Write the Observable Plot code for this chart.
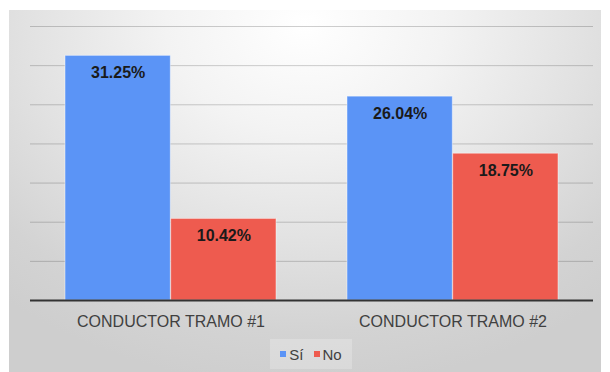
<!DOCTYPE html>
<html>
<head>
<meta charset="utf-8">
<script src="https://cdn.jsdelivr.net/npm/d3@7"></script>
<script src="https://cdn.jsdelivr.net/npm/@observablehq/plot@0.6"></script>
<style>
  html, body { margin: 0; padding: 0; background: #ffffff; }
  #wrap { position: relative; width: 610px; height: 372px; overflow: hidden; font-family: "Liberation Sans", Arial, sans-serif; }
  #panel { position: absolute; left: 9px; top: 10px; width: 592px; height: 362px;
    background: radial-gradient(ellipse 78% 100% at 50% 4%, #ffffff 0%, #f3f3f3 30%, #e2e2e2 60%, #d3d3d3 85%, #cecece 100%); }
  #chart { position: absolute; left: 0; top: 0; }
  #legend { position: absolute; left: 270px; top: 339px; width: 82px; height: 30px; background: rgba(255,255,255,0.22);
    display: flex; align-items: center; justify-content: center; gap: 10px; font-size: 15px; color: #404040; }
  .sw { display: inline-flex; align-items: center; gap: 3px; }
  .sq { width: 6px; height: 6px; display: inline-block; }
</style>
</head>
<body>
<div id="wrap">
  <div id="panel"></div>
  <div id="chart"></div>
  <div id="legend"></div>
</div>
<script>
const groups = ["CONDUCTOR TRAMO #1", "CONDUCTOR TRAMO #2"];
const series = ["Sí", "No"];
const siValues = [31.25, 26.04];
const noValues = [10.42, 18.75];
const colors = ["#5b94f6", "#ee5b4f"];
const gridTicks = [5, 10, 15, 20, 25, 30, 35];

const width = 610, height = 335;
const marginLeft = 30, marginRight = 17, marginTop = 26, marginBottom = 35;
const paddingInner = 0.252, paddingOuter = 0.122;
const step = (width - marginLeft - marginRight) / (groups.length - paddingInner + 2 * paddingOuter);
const half = step * (1 - paddingInner) / 2;

const siData = groups.map((g, i) => ({group: g, serie: series[0], value: siValues[i]}));
const noData = groups.map((g, i) => ({group: g, serie: series[1], value: noValues[i]}));
const fmt = d => d.value.toFixed(2) + "%";

const chart = Plot.plot({
  width, height, marginLeft, marginRight, marginTop, marginBottom,
  style: {background: "transparent", fontFamily: "'Liberation Sans', Arial, sans-serif"},
  x: {domain: groups, paddingInner, paddingOuter, label: null},
  y: {domain: [0, 35], label: null, axis: null},
  marks: [
    Plot.gridY(gridTicks, {stroke: "#000", strokeOpacity: 0.19, strokeWidth: 1}),
    Plot.barY(siData, {x: "group", y: "value", fill: colors[0], insetRight: half, stroke: "#fff", strokeOpacity: 0.45, strokeWidth: 1}),
    Plot.barY(noData, {x: "group", y: "value", fill: colors[1], insetLeft: half, stroke: "#fff", strokeOpacity: 0.45, strokeWidth: 1}),
    Plot.text(siData, {x: "group", y: "value", text: fmt, dx: -half / 2, dy: 17, fontSize: 16, fontWeight: "bold", fill: "#1a1a1a"}),
    Plot.text(noData, {x: "group", y: "value", text: fmt, dx: half / 2, dy: 17, fontSize: 16, fontWeight: "bold", fill: "#1a1a1a"}),
    Plot.ruleY([0], {stroke: "#333", strokeWidth: 2}),
    Plot.axisX({tickSize: 0, tickPadding: 15, fontSize: 16, fill: "#404040", label: null})
  ]
});
document.getElementById("chart").appendChild(chart);

const legend = document.getElementById("legend");
series.forEach((s, i) => {
  const item = document.createElement("span");
  item.className = "sw";
  const sq = document.createElement("span");
  sq.className = "sq";
  sq.style.background = colors[i];
  const t = document.createElement("span");
  t.textContent = s;
  item.appendChild(sq);
  item.appendChild(t);
  legend.appendChild(item);
});
</script>
</body>
</html>
